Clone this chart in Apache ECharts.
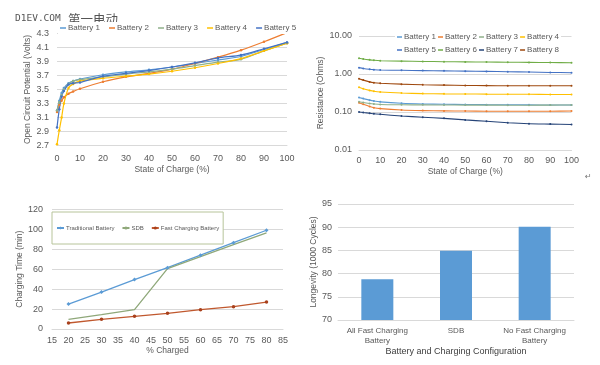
<!DOCTYPE html>
<html><head><meta charset="utf-8">
<script src="https://cdn.jsdelivr.net/npm/echarts@6/dist/echarts.min.js"></script>
<style>html,body{margin:0;padding:0;background:#fff}#c{width:600px;height:365px}</style>
</head><body><div id="c"></div>
<script>
// ---- Data ----
// Top-left: open circuit potential vs state of charge
const ocvSoc = [0, 1, 2, 3, 5, 7, 10, 20, 30, 40, 50, 60, 70, 80, 90, 100];
const ocvB1 = [3.20, 3.34, 3.45, 3.52, 3.59, 3.62, 3.65, 3.71, 3.75, 3.78, 3.82, 3.87, 3.92, 3.97, 4.07, 4.17];
const ocvB2 = [3.18, 3.28, 3.34, 3.39, 3.44, 3.47, 3.51, 3.61, 3.68, 3.73, 3.79, 3.87, 3.96, 4.06, 4.18, 4.31];
const ocvB3 = [3.20, 3.32, 3.42, 3.50, 3.58, 3.62, 3.64, 3.68, 3.72, 3.75, 3.79, 3.84, 3.89, 3.93, 4.05, 4.16];
const ocvB4 = [2.72, 2.92, 3.10, 3.30, 3.52, 3.58, 3.62, 3.66, 3.69, 3.72, 3.76, 3.81, 3.87, 3.94, 4.05, 4.16];
const ocvB5 = [2.96, 3.22, 3.40, 3.48, 3.57, 3.59, 3.60, 3.69, 3.73, 3.77, 3.82, 3.88, 3.95, 3.99, 4.08, 4.17];
const ocvYTicks = ['2.7','2.9','3.1','3.3','3.5','3.7','3.9','4.1','4.3'];

// Top-right: resistance vs state of charge (log scale)
const resSoc = [0, 2, 5, 7, 10, 20, 30, 40, 50, 60, 70, 80, 90, 100];
const resB1 = [0.24, 0.225, 0.205, 0.195, 0.185, 0.17, 0.163, 0.16, 0.158, 0.156, 0.155, 0.154, 0.153, 0.153];
const resB2 = [0.176, 0.16, 0.14, 0.13, 0.123, 0.113, 0.109, 0.107, 0.106, 0.105, 0.105, 0.105, 0.105, 0.106];
const resB3 = [0.187, 0.178, 0.168, 0.163, 0.158, 0.155, 0.154, 0.153, 0.152, 0.152, 0.151, 0.151, 0.152, 0.153];
const resB4 = [0.45, 0.41, 0.37, 0.35, 0.335, 0.315, 0.305, 0.30, 0.298, 0.295, 0.293, 0.292, 0.29, 0.29];
const resB5 = [1.47, 1.40, 1.33, 1.30, 1.27, 1.25, 1.23, 1.21, 1.19, 1.17, 1.15, 1.13, 1.10, 1.08];
const resB6 = [2.59, 2.48, 2.36, 2.30, 2.24, 2.18, 2.14, 2.11, 2.08, 2.06, 2.04, 2.02, 2.00, 1.98];
const resB7 = [0.10, 0.097, 0.093, 0.09, 0.087, 0.0785, 0.073, 0.068, 0.062, 0.057, 0.052, 0.049, 0.048, 0.047];
const resB8 = [0.75, 0.69, 0.62, 0.59, 0.57, 0.54, 0.52, 0.51, 0.50, 0.495, 0.49, 0.49, 0.49, 0.49];

// Bottom-left: charging time vs % charged
const pctCharged = [20, 30, 40, 50, 60, 70, 80];
const timeTraditional = [25, 37, 49.5, 61.5, 74, 86.5, 99];
const timeSDB = [9.7, 14.5, 19.4, 60.5, 72.6, 84.5, 96.3];
const timeFast = [6, 9.7, 12.7, 15.7, 19.4, 22.4, 27];

// Bottom-right: longevity by configuration
const configs = ['All Fast Charging\nBattery', 'SDB', 'No Fast Charging\nBattery'];
const longevity = [78.8, 84.9, 90.1];

// ---- Chart ----
const FONT = 'Liberation Sans';
const TXT = '#595959';
const GRID = '#D9D9D9';
const COL = {b1:'#5B9BD5', b2:'#ED7D31', b3:'#8FB08A', b4:'#FFC000', b5:'#4472C4', b6:'#70AD47', b7:'#264478', b8:'#9E480E'};
const pairs = (xs, ys) => xs.map((x, i) => [x, ys[i]]);

function valAxis(gi, o) {
  return Object.assign({
    gridIndex: gi, type: 'value',
    axisLine: {show: false},
    axisTick: {show: false},
    splitLine: {show: true, lineStyle: {color: GRID, width: 1}},
    axisLabel: {color: TXT, fontSize: 9, fontFamily: FONT},
    nameLocation: 'middle',
    nameTextStyle: {color: TXT, fontSize: 8.5, fontFamily: FONT}
  }, o);
}
const xLine = {show: true, lineStyle: {color: GRID}};

function ocvSeries(name, ys, color) {
  return {type: 'line', name, xAxisIndex: 0, yAxisIndex: 0, data: pairs(ocvSoc, ys),
    smooth: 0.25, symbol: 'circle', symbolSize: 2.5, showSymbol: true,
    lineStyle: {width: 1.2, color}, itemStyle: {color}};
}
function resSeries(name, ys, color) {
  return {type: 'line', name, xAxisIndex: 1, yAxisIndex: 1, data: pairs(resSoc, ys),
    smooth: 0.25, symbol: 'circle', symbolSize: 2, showSymbol: true,
    lineStyle: {width: 1.1, color}, itemStyle: {color}};
}
const legText = {color: TXT, fontSize: 8, fontFamily: FONT, padding: [0, 0, 0, -3]};

const chart = echarts.init(document.getElementById('c'));
chart.setOption({
  animation: false,
  backgroundColor: '#fff',
  textStyle: {fontFamily: FONT},
  grid: [
    {left: 57, top: 33.3, width: 230, height: 112.4},
    {left: 359, top: 36, width: 212.5, height: 114},
    {left: 52, top: 209.3, width: 231, height: 119.7},
    {left: 338, top: 204, width: 236, height: 116}
  ],
  xAxis: [
    valAxis(0, {min: 0, max: 100, interval: 10, splitLine: {show: false}, axisLine: xLine,
      axisLabel: {color: TXT, fontSize: 9, fontFamily: FONT, margin: 8},
      name: 'State of Charge (%)', nameGap: 19}),
    valAxis(1, {min: 0, max: 100, interval: 10, splitLine: {show: false}, axisLine: xLine,
      axisLabel: {color: TXT, fontSize: 9, fontFamily: FONT, margin: 6},
      name: 'State of Charge (%)', nameGap: 17}),
    valAxis(2, {min: 15, max: 85, interval: 5, splitLine: {show: false}, axisLine: xLine,
      axisLabel: {color: TXT, fontSize: 9, fontFamily: FONT, margin: 7},
      name: '% Charged', nameGap: 17}),
    {gridIndex: 3, type: 'category', data: configs,
      axisLine: xLine, axisTick: {show: false},
      axisLabel: {color: TXT, fontSize: 8, fontFamily: FONT, margin: 6, lineHeight: 10, interval: 0},
      name: 'Battery and Charging Configuration', nameLocation: 'middle', nameGap: 25,
      nameTextStyle: {color: '#404040', fontSize: 9, fontFamily: FONT}}
  ],
  yAxis: [
    valAxis(0, {min: 2.7, max: 4.3, interval: 0.2,
      axisLabel: {color: TXT, fontSize: 9, fontFamily: FONT, margin: 8,
        formatter: v => ocvYTicks[Math.round((v - 2.7) / 0.2)]},
      name: 'Open Circuit Potential (Volts)', nameGap: 16}),
    valAxis(1, {type: 'log', logBase: 10, min: 0.01, max: 10,
      axisLabel: {color: TXT, fontSize: 9, fontFamily: FONT, margin: 7, formatter: v => v.toFixed(2)},
      name: 'Resistance (Ohms)', nameGap: 20}),
    valAxis(2, {min: 0, max: 120, interval: 20,
      axisLabel: {color: TXT, fontSize: 9, fontFamily: FONT, margin: 9},
      name: 'Charging Time (min)', nameGap: 18}),
    valAxis(3, {min: 70, max: 95, interval: 5,
      axisLabel: {color: TXT, fontSize: 9, fontFamily: FONT, margin: 6},
      name: 'Longevity (1000 Cycles)', nameGap: 16})
  ],
  legend: [
    {data: ['Battery 1','Battery 2','Battery 3','Battery 4','Battery 5'],
      left: 58, top: 22, itemWidth: 6, itemHeight: 1.5, itemGap: 9, icon: 'rect', padding: 2,
      backgroundColor: '#fff', textStyle: legText},
    {data: ['Battery 1','Battery 2','Battery 3','Battery 4'],
      left: 395, top: 31, itemWidth: 5, itemHeight: 1.5, itemGap: 2, icon: 'rect', padding: 2,
      backgroundColor: '#fff', textStyle: legText},
    {data: ['Battery 5','Battery 6','Battery 7','Battery 8'],
      left: 395, top: 44, itemWidth: 5, itemHeight: 1.5, itemGap: 2, icon: 'rect', padding: 2,
      backgroundColor: '#fff', textStyle: legText},
    {data: ['Traditional Battery','SDB','Fast Charging Battery'],
      left: 52, top: 212, itemWidth: 7, itemHeight: 4, itemGap: 7,
      padding: [13, 4, 13, 4], borderColor: '#B7C49A', borderWidth: 1, backgroundColor: '#fff',
      textStyle: {color: TXT, fontSize: 6, fontFamily: FONT, padding: [0, 0, 0, -3]}}
  ],
  series: [
    ocvSeries('Battery 1', ocvB1, COL.b1),
    ocvSeries('Battery 2', ocvB2, COL.b2),
    ocvSeries('Battery 3', ocvB3, COL.b3),
    ocvSeries('Battery 4', ocvB4, COL.b4),
    ocvSeries('Battery 5', ocvB5, COL.b5),
    resSeries('Battery 1', resB1, COL.b1),
    resSeries('Battery 2', resB2, COL.b2),
    resSeries('Battery 3', resB3, COL.b3),
    resSeries('Battery 4', resB4, COL.b4),
    resSeries('Battery 5', resB5, COL.b5),
    resSeries('Battery 6', resB6, COL.b6),
    resSeries('Battery 7', resB7, COL.b7),
    resSeries('Battery 8', resB8, COL.b8),
    {type: 'line', name: 'Traditional Battery', xAxisIndex: 2, yAxisIndex: 2,
      data: pairs(pctCharged, timeTraditional), symbol: 'diamond', symbolSize: 4,
      lineStyle: {width: 1.3, color: '#5B9BD5'}, itemStyle: {color: '#5B9BD5'}},
    {type: 'line', name: 'SDB', xAxisIndex: 2, yAxisIndex: 2,
      data: pairs(pctCharged, timeSDB), symbol: 'none',
      lineStyle: {width: 1.3, color: '#8FA87A'}, itemStyle: {color: '#8FA87A'}},
    {type: 'line', name: 'Fast Charging Battery', xAxisIndex: 2, yAxisIndex: 2,
      data: pairs(pctCharged, timeFast), symbol: 'circle', symbolSize: 3.5,
      lineStyle: {width: 1.3, color: '#C0582E'}, itemStyle: {color: '#A8401C'}},
    {type: 'bar', name: 'Longevity', xAxisIndex: 3, yAxisIndex: 3,
      data: longevity, barWidth: 32, itemStyle: {color: '#5B9BD5'}}
  ],
  graphic: [
    {type: 'text', left: 15, top: 14, style: {text: 'D1EV.COM', font: '9.5px "DejaVu Sans Mono"', fill: '#555'}},
    {type: 'text', left: 68, top: 13, style: {text: '第一电动', font: '12.5px "Noto Sans CJK SC"', fill: '#555'}},
    {type: 'text', left: 585, top: 173, style: {text: '↵', font: '8px "DejaVu Sans"', fill: '#777'}}
  ]
});
</script></body></html>
